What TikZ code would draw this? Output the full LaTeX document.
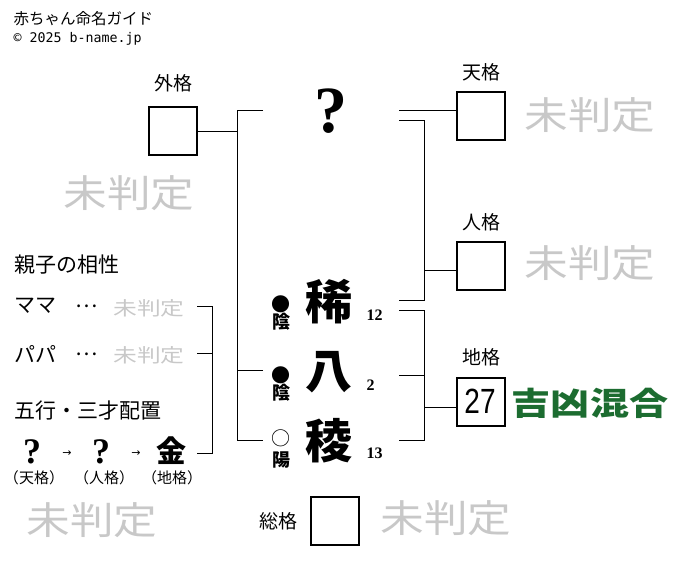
\documentclass[tikz,border=0pt]{standalone}
\usepackage{fontspec}
\setmainfont{Noto Sans CJK JP}
\newfontfamily\serifnum{Liberation Serif}
\newfontfamily\monofont{DejaVu Sans Mono}
\newfontfamily\symfont{DejaVu Sans}
\newfontfamily\numfont{Liberation Sans}
\definecolor{pending}{RGB}{200,200,200}
\definecolor{mixed}{RGB}{28,108,48}

\begin{document}
\begin{tikzpicture}[x=1pt, y=-1pt, inner sep=0pt, line width=1pt,
  kakubox/.style={draw, line width=2pt, minimum width=48pt, minimum height=48pt},
  kakulabel/.style={font=\fontsize{19}{19}\selectfont},
  bigchar/.style={font=\fontsize{47}{47}\selectfont\bfseries},
  strokes/.style={anchor=west, font=\fontsize{16}{16}\selectfont\serifnum\bfseries},
  yinyang/.style={font=\fontsize{19}{19}\selectfont},
  yinyangchar/.style={font=\fontsize{18}{18}\selectfont\bfseries},
  pend/.style={text=pending, xscale=1.15, font=\fontsize{38}{38}\selectfont},
  smallpend/.style={text=pending, xscale=1.25, font=\fontsize{19}{19}\selectfont},
  lefttext/.style={anchor=west, font=\fontsize{21}{21}\selectfont}]

\useasboundingbox (0, 0) rectangle (676, 562);

\node[anchor=west, font=\fontsize{15.5}{15.5}\selectfont] (title) at (13, 18.5) {赤ちゃん命名ガイド};
\node[anchor=west, font=\fontsize{13.3}{13.3}\selectfont\monofont] (copy) at (13, 39) {© 2025 b-name.jp};

\node[kakulabel] (gaiLabel) at (173, 83) {外格};
\node[kakubox] (gaiBox) at (172.5, 131) {};
\node[pend] (gaiPend) at (129, 193) {未判定};

\node[kakulabel] (tenLabel) at (481, 72) {天格};
\node[kakubox] (tenBox) at (481, 116) {};
\node[pend] (tenPend) at (590, 115) {未判定};

\node[kakulabel] (jinLabel) at (481, 222) {人格};
\node[kakubox] (jinBox) at (481, 266) {};
\node[pend] (jinPend) at (590, 263) {未判定};

\node[kakulabel] (chiLabel) at (481, 357) {地格};
\node[kakubox] (chiBox) at (481, 401.5) {};
\node[xscale=0.8, font=\fontsize{35}{35}\selectfont\numfont] (chiNum) at (480, 401) {27};
\node[text=mixed, xscale=1.22, font=\fontsize{32}{32}\selectfont\bfseries] (chiPend) at (590, 403) {吉凶混合};

\node[kakulabel] (souLabel) at (278, 521) {総格};
\node[kakubox] (souBox) at (335, 520.5) {};
\node[pend] (souPend) at (446, 518) {未判定};

\node[font=\fontsize{66}{66}\selectfont\serifnum\bfseries] (sei) at (331, 111) {?};
\node[bigchar] (mei1) at (329, 302) {稀};
\node[bigchar] (mei2) at (329, 372) {八};
\node[bigchar] (mei3) at (329, 441) {稜};

\node[strokes] (kaku1) at (366, 315) {12};
\node[strokes] (kaku2) at (366, 385) {2};
\node[strokes] (kaku3) at (366, 453) {13};

\node[yinyang] (mark1) at (281, 304) {●};
\node[yinyangchar] (yin1) at (281, 322) {陰};
\node[yinyang] (mark2) at (281, 375) {●};
\node[yinyangchar] (yin2) at (281, 393) {陰};
\node[yinyang] (mark3) at (281, 438) {○};
\node[yinyangchar] (yang3) at (281, 460) {陽};

\node[lefttext] (aishou) at (14, 265) {親子の相性};
\node[lefttext] (mama) at (14, 306) {ママ};
\node[lefttext, anchor=center] (mamaDots) at (87, 306) {…};
\node[smallpend] (mamaPend) at (149, 308) {未判定};
\node[lefttext] (papa) at (14, 354) {パパ};
\node[lefttext, anchor=center] (papaDots) at (87, 354) {…};
\node[smallpend] (papaPend) at (149, 355) {未判定};

\node[lefttext] (gogyou) at (14, 411) {五行・三才配置};
\node[font=\fontsize{36}{36}\selectfont\serifnum\bfseries] (gTen) at (32, 452) {?};
\node[font=\fontsize{11}{11}\selectfont\symfont] (arrow1) at (67, 454) {→};
\node[font=\fontsize{36}{36}\selectfont\serifnum\bfseries] (gJin) at (101, 452) {?};
\node[font=\fontsize{11}{11}\selectfont\symfont] (arrow2) at (136, 454) {→};
\node[font=\fontsize{30}{30}\selectfont\bfseries] (gChi) at (171, 451) {金};
\node[font=\fontsize{15}{15}\selectfont] (gTenLabel) at (34, 478) {（天格）};
\node[font=\fontsize{15}{15}\selectfont] (gJinLabel) at (104, 478) {（人格）};
\node[font=\fontsize{15}{15}\selectfont] (gChiLabel) at (172, 478) {（地格）};
\node[pend] (leftPend) at (92, 520) {未判定};

\coordinate (leftBar) at (237, 0);
\coordinate (seiW) at (263, 110);
\coordinate (mei2W) at (263, 370);
\coordinate (mei3W) at (263, 440);
\draw (seiW) -- (seiW -| leftBar) -- (mei3W -| leftBar) -- (mei3W);
\draw (mei2W) -- (mei2W -| leftBar);
\draw (gaiBox.east) -- (gaiBox.east -| leftBar);

\coordinate (rightBar) at (424, 0);
\coordinate (seiE1) at (399, 110);
\coordinate (seiE2) at (399, 120);
\coordinate (mei1E1) at (399, 300);
\coordinate (mei1E2) at (399, 310);
\coordinate (mei2E) at (399, 375);
\coordinate (mei3E) at (399, 440);
\coordinate (jinJoin) at (424, 270);
\coordinate (chiJoin) at (424, 407);
\draw (seiE1) -- (tenBox.west |- seiE1);
\draw (seiE2) -- (seiE2 -| rightBar) -- (mei1E1 -| rightBar) -- (mei1E1);
\draw (jinJoin) -- (jinBox.west |- jinJoin);
\draw (mei1E2) -- (mei1E2 -| rightBar) -- (mei3E -| rightBar) -- (mei3E);
\draw (mei2E) -- (mei2E -| rightBar);
\draw (chiJoin) -- (chiBox.west |- chiJoin);

\coordinate (aishouBar) at (212, 0);
\coordinate (mamaE) at (197, 306);
\coordinate (papaE) at (197, 353);
\coordinate (gogyouE) at (197, 453);
\draw (mamaE) -- (mamaE -| aishouBar) -- (gogyouE -| aishouBar) -- (gogyouE);
\draw (papaE) -- (papaE -| aishouBar);

\end{tikzpicture}
\end{document}
